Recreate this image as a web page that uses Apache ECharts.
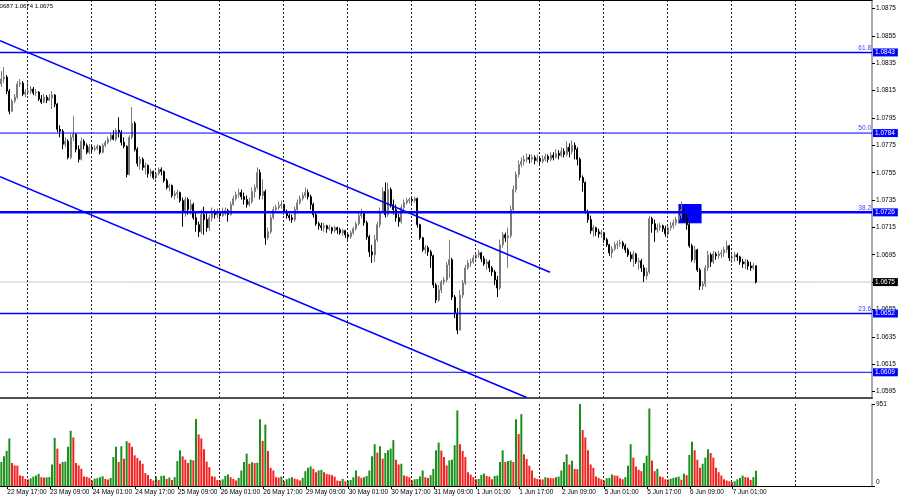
<!DOCTYPE html>
<html><head><meta charset="utf-8">
<script src="https://cdn.jsdelivr.net/npm/echarts@6/dist/echarts.min.js"></script>
<style>html,body{margin:0;padding:0;background:#fff}#c{width:900px;height:500px}</style>
</head><body><div id="c"></div>
<script>
// ---------- data (EURUSD H1) ----------
const symbolName = 'EURUSD,H1';
const firstOpen = 1.08199;
const closes = [
1.08236,1.08250,1.08147,1.08000,1.08074,1.08103,1.08199,1.08206,1.08125,1.08140,
1.08147,1.08162,1.08133,1.08140,1.08089,1.08066,1.08103,1.08081,1.08096,1.08118,
1.08052,1.07868,1.07853,1.07758,1.07780,1.07662,1.07809,1.07831,1.07721,1.07648,
1.07780,1.07750,1.07699,1.07736,1.07721,1.07728,1.07743,1.07699,1.07750,1.07772,
1.07795,1.07824,1.07795,1.07861,1.07846,1.07772,1.07743,1.07537,1.07809,1.07912,
1.07721,1.07618,1.07648,1.07589,1.07603,1.07544,1.07559,1.07515,1.07544,1.07574,
1.07559,1.07493,1.07442,1.07456,1.07383,1.07397,1.07405,1.07346,1.07258,1.07354,
1.07280,1.07317,1.07221,1.07170,1.07118,1.07243,1.07207,1.07148,1.07221,1.07265,
1.07243,1.07258,1.07236,1.07250,1.07273,1.07243,1.07317,1.07361,1.07390,1.07405,
1.07375,1.07354,1.07317,1.07339,1.07412,1.07442,1.07552,1.07383,1.07412,1.07074,
1.07118,1.07221,1.07280,1.07295,1.07309,1.07317,1.07265,1.07236,1.07221,1.07207,
1.07280,1.07331,1.07361,1.07383,1.07405,1.07375,1.07317,1.07243,1.07177,1.07162,
1.07148,1.07162,1.07140,1.07148,1.07126,1.07148,1.07133,1.07111,1.07126,1.07096,
1.07081,1.07111,1.07140,1.07177,1.07236,1.07250,1.07184,1.07081,1.06971,1.06949,
1.07060,1.07170,1.07265,1.07412,1.07243,1.07427,1.07317,1.07280,1.07221,1.07192,
1.07295,1.07331,1.07346,1.07354,1.07346,1.07361,1.07170,1.07074,1.06986,1.07001,
1.06971,1.06942,1.06729,1.06619,1.06692,1.06751,1.06766,1.06876,1.06913,1.06640,
1.06523,1.06398,1.06655,1.06743,1.06854,1.06890,1.06898,1.06927,1.06949,1.06964,
1.06920,1.06883,1.06898,1.06854,1.06824,1.06766,1.06707,1.07023,1.07096,1.07074,
1.07089,1.07280,1.07427,1.07537,1.07611,1.07633,1.07648,1.07662,1.07648,1.07662,
1.07640,1.07655,1.07633,1.07648,1.07669,1.07648,1.07677,1.07662,1.07691,1.07677,
1.07706,1.07684,1.07736,1.07706,1.07750,1.07721,1.07648,1.07515,1.07478,1.07265,
1.07207,1.07126,1.07148,1.07118,1.07103,1.07111,1.07060,1.07023,1.06964,1.06993,
1.07023,1.07030,1.07037,1.07015,1.06986,1.06949,1.06920,1.06956,1.06898,1.06905,
1.06854,1.06795,1.06824,1.07214,1.07177,1.07133,1.07148,1.07162,1.07140,1.07103,
1.07148,1.07162,1.07184,1.07207,1.07236,1.07280,1.07214,1.07170,1.07015,1.06913,
1.06986,1.06839,1.06721,1.06736,1.06854,1.06949,1.06898,1.06956,1.06942,1.06956,
1.06964,1.06986,1.07015,1.06927,1.06934,1.06949,1.06934,1.06898,1.06883,1.06898,
1.06868,1.06854,1.06870,1.06750
];
const highs = [
1.08294,1.08324,1.08265,1.08162,1.08089,1.08125,1.08221,1.08236,1.08221,1.08162,
1.08213,1.08184,1.08177,1.08162,1.08147,1.08118,1.08125,1.08118,1.08125,1.08147,
1.08125,1.08059,1.07897,1.07868,1.07809,1.07795,1.07831,1.07963,1.07838,1.07750,
1.07809,1.07795,1.07765,1.07758,1.07750,1.07750,1.07758,1.07750,1.07765,1.07787,
1.07816,1.07838,1.07861,1.07875,1.07956,1.07861,1.07809,1.07750,1.07824,1.08030,
1.07927,1.07736,1.07669,1.07662,1.07625,1.07611,1.07581,1.07567,1.07559,1.07589,
1.07589,1.07567,1.07508,1.07471,1.07464,1.07420,1.07427,1.07412,1.07368,1.07375,
1.07368,1.07354,1.07331,1.07258,1.07192,1.07280,1.07302,1.07265,1.07243,1.07295,
1.07280,1.07287,1.07273,1.07295,1.07295,1.07287,1.07339,1.07383,1.07412,1.07434,
1.07427,1.07405,1.07383,1.07368,1.07442,1.07464,1.07589,1.07574,1.07501,1.07427,
1.07148,1.07243,1.07302,1.07317,1.07339,1.07346,1.07324,1.07280,1.07250,1.07243,
1.07302,1.07354,1.07383,1.07405,1.07442,1.07427,1.07390,1.07331,1.07258,1.07192,
1.07184,1.07184,1.07170,1.07170,1.07155,1.07162,1.07155,1.07148,1.07140,1.07133,
1.07111,1.07126,1.07155,1.07192,1.07265,1.07287,1.07265,1.07199,1.07096,1.07023,
1.07096,1.07192,1.07295,1.07442,1.07478,1.07478,1.07442,1.07354,1.07317,1.07250,
1.07317,1.07354,1.07368,1.07368,1.07368,1.07375,1.07368,1.07177,1.07081,1.07023,
1.07015,1.06986,1.06949,1.06743,1.06729,1.06766,1.06787,1.06898,1.07060,1.06927,
1.06655,1.06560,1.06692,1.06766,1.06876,1.06913,1.06920,1.06949,1.06971,1.06986,
1.06971,1.06942,1.06920,1.06913,1.06868,1.06839,1.06795,1.07060,1.07118,1.07111,
1.07148,1.07309,1.07456,1.07559,1.07640,1.07662,1.07677,1.07691,1.07684,1.07684,
1.07677,1.07684,1.07669,1.07677,1.07691,1.07684,1.07699,1.07699,1.07721,1.07714,
1.07736,1.07728,1.07780,1.07765,1.07787,1.07772,1.07736,1.07662,1.07530,1.07486,
1.07280,1.07236,1.07170,1.07155,1.07140,1.07133,1.07118,1.07074,1.07030,1.07015,
1.07045,1.07052,1.07060,1.07052,1.07030,1.07001,1.06971,1.06979,1.06964,1.06927,
1.06920,1.06876,1.06854,1.07236,1.07228,1.07207,1.07177,1.07184,1.07170,1.07162,
1.07170,1.07192,1.07207,1.07228,1.07295,1.07339,1.07302,1.07250,1.07192,1.07030,
1.07015,1.06993,1.06854,1.06758,1.06876,1.06979,1.06964,1.06979,1.06971,1.06979,
1.06986,1.07008,1.07052,1.07023,1.06971,1.06971,1.06964,1.06942,1.06920,1.06920,
1.06913,1.06898,1.06890,1.06870
];
const lows = [
1.08177,1.08206,1.08125,1.07978,1.07993,1.08059,1.08089,1.08177,1.08110,1.08103,
1.08118,1.08125,1.08118,1.08110,1.08074,1.08052,1.08059,1.08059,1.08074,1.08015,
1.08030,1.07846,1.07809,1.07721,1.07736,1.07648,1.07648,1.07780,1.07699,1.07625,
1.07640,1.07721,1.07684,1.07684,1.07699,1.07706,1.07714,1.07684,1.07691,1.07736,
1.07758,1.07780,1.07787,1.07780,1.07809,1.07750,1.07728,1.07515,1.07530,1.07795,
1.07706,1.07596,1.07574,1.07567,1.07537,1.07515,1.07522,1.07501,1.07501,1.07530,
1.07530,1.07478,1.07427,1.07412,1.07368,1.07354,1.07361,1.07331,1.07155,1.07228,
1.07243,1.07243,1.07207,1.07118,1.07081,1.07103,1.07096,1.07118,1.07126,1.07192,
1.07214,1.07221,1.07207,1.07228,1.07236,1.07192,1.07236,1.07309,1.07346,1.07368,
1.07354,1.07317,1.07295,1.07302,1.07324,1.07368,1.07427,1.07354,1.07354,1.07023,
1.07060,1.07103,1.07207,1.07265,1.07280,1.07287,1.07243,1.07214,1.07199,1.07184,
1.07192,1.07265,1.07317,1.07346,1.07368,1.07354,1.07280,1.07221,1.07162,1.07133,
1.07126,1.07118,1.07111,1.07126,1.07103,1.07111,1.07103,1.07096,1.07089,1.07074,
1.07060,1.07067,1.07096,1.07126,1.07162,1.07214,1.07162,1.07060,1.06934,1.06890,
1.06898,1.07045,1.07148,1.07265,1.07221,1.07228,1.07295,1.07243,1.07192,1.07155,
1.07177,1.07280,1.07317,1.07324,1.07324,1.07331,1.07148,1.07060,1.06971,1.06956,
1.06942,1.06854,1.06707,1.06596,1.06604,1.06670,1.06729,1.06751,1.06780,1.06619,
1.06486,1.06369,1.06398,1.06633,1.06729,1.06839,1.06861,1.06883,1.06913,1.06927,
1.06898,1.06868,1.06839,1.06824,1.06795,1.06729,1.06640,1.06692,1.07001,1.07045,
1.06854,1.07074,1.07265,1.07405,1.07515,1.07589,1.07603,1.07625,1.07618,1.07625,
1.07611,1.07625,1.07603,1.07618,1.07633,1.07625,1.07633,1.07640,1.07655,1.07648,
1.07662,1.07662,1.07669,1.07662,1.07684,1.07648,1.07603,1.07493,1.07412,1.07250,
1.07184,1.07103,1.07081,1.07089,1.07074,1.07074,1.07037,1.07008,1.06942,1.06927,
1.06979,1.06993,1.07008,1.06993,1.06964,1.06934,1.06898,1.06861,1.06883,1.06839,
1.06824,1.06751,1.06766,1.06809,1.07111,1.07045,1.07111,1.07126,1.07118,1.07081,
1.07089,1.07126,1.07140,1.07162,1.07177,1.07214,1.07184,1.07133,1.07001,1.06898,
1.06890,1.06824,1.06692,1.06692,1.06714,1.06832,1.06861,1.06883,1.06913,1.06920,
1.06927,1.06934,1.06964,1.06905,1.06890,1.06898,1.06905,1.06876,1.06854,1.06846,
1.06839,1.06832,1.06839,1.06740
];
const volumes = [
278,344,407,551,266,239,235,121,117,82,
74,90,109,121,141,102,98,100,104,250,
559,434,258,278,282,454,641,563,266,239,
199,109,106,94,63,86,90,102,113,82,
74,94,336,454,278,461,317,520,500,454,
356,325,297,258,149,129,82,63,109,70,
117,118,82,98,70,102,289,414,344,305,
266,305,297,778,598,551,426,282,219,113,
109,70,63,78,117,133,102,82,63,94,
180,278,375,258,274,266,270,774,524,712,
407,211,180,102,98,109,55,78,90,102,
86,78,63,94,172,211,227,199,160,180,
188,160,141,133,125,109,63,59,82,55,
63,70,102,180,113,94,102,117,180,344,
485,387,461,317,383,414,434,532,305,250,
258,121,113,102,63,78,82,109,180,102,
94,125,199,414,504,410,336,239,297,305,
473,876,485,407,336,160,133,102,78,82,
129,145,117,109,78,117,121,278,414,278,
289,297,278,774,602,833,368,313,235,180,
94,82,78,76,102,94,92,90,102,109,
180,278,368,250,293,199,195,951,649,563,
414,250,211,109,94,78,63,90,94,133,
121,120,90,78,102,235,485,328,227,188,
172,266,352,899,297,172,199,109,102,78,
76,86,94,102,109,74,141,125,360,512,
414,305,211,258,328,426,383,328,211,160,
121,78,63,55,47,55,78,94,121,102,
100,70,102,176
];
const timeLabels = ['22 May 17:00','23 May 09:00','24 May 01:00','24 May 17:00','25 May 09:00','26 May 01:00','26 May 17:00','29 May 09:00','30 May 01:00','30 May 17:00','31 May 09:00','1 Jun 01:00','1 Jun 17:00','2 Jun 09:00','5 Jun 01:00','5 Jun 17:00','6 Jun 09:00','7 Jun 01:00'];
const timeLabelBars = [2.25,18.25,34.25,50.25,66.25,82.25,98.25,114.25,130.25,146.25,162.25,178.25,194.25,210.25,226.25,242.25,258.25,274.25];
const daySeparatorBars = [9.74,33.74,57.74,81.74,105.74,129.74,153.74,177.74,201.74,225.74,249.74,273.74,297.74];
const priceTicks = [1.0595,1.0615,1.0635,1.0655,1.0675,1.0695,1.0715,1.0735,1.0755,1.0775,1.0795,1.0815,1.0835,1.0855,1.0875];
const volumeTicks = [0, 951];
const levelPrices = [1.0843, 1.0784, 1.0726, 1.0652, 1.0609];
const levelFibText = ['61.8', '50.0', '38.2', '23.6', ''];
const lastPrice = 1.0675;
const channelUpper = [[-0.5, 1.08516], [205.75, 1.06822]];
const channelLower = [[-0.5, 1.07521], [197.0, 1.05905]];
const zoneBars = [253.9, 262.6];
const zonePrices = [1.07321, 1.07180];

// ---------- chart ----------
const N = 327;
const XMIN = -0.5, XMAX = N - 0.5;
const cats = Array.from({length: N}, (_, i) => String(i));
const candleData = closes.map((c, i) => {
  const o = i === 0 ? firstOpen : closes[i - 1];
  return [o, c, Math.min(lows[i], o, c), Math.max(highs[i], o, c)];
});
const GREEN = '#1d8f1d', RED = '#f52222';
const volData = volumes.map((v, i) => ({value: v, itemStyle: {color: (i === 0 || v > volumes[i - 1]) ? GREEN : RED}}));
const FONT = 'Liberation Sans';
const lineWidths = [1.5, 1, 2.5, 1.5, 1];
const last = candleData[candleData.length - 1];
const infoText = symbolName + '  ' + [last[0], last[3], last[2], last[1]].map(v => v.toFixed(4)).join(' ');

const boxLabel = (txt, bg) => ({show: true, distance: 1, formatter: txt, color: '#fff', backgroundColor: bg,
  fontSize: 6.5, fontFamily: FONT, padding: [1, 3, 0, 2], lineHeight: 7});

// each horizontal level as its own two-point line series across the full axis
const levelSeries = [];
levelPrices.forEach((p, i) => {
  levelSeries.push({type: 'line', xAxisIndex: 1, yAxisIndex: 0, z: 6, silent: true, symbol: 'none',
    lineStyle: {color: '#0000ff', width: lineWidths[i]},
    data: [[XMIN, p], [XMAX, p]], endLabel: boxLabel(p.toFixed(4), '#0000ff')});
  if (levelFibText[i]) levelSeries.push({type: 'line', xAxisIndex: 1, yAxisIndex: 0, z: 6, silent: true, symbol: 'none',
    lineStyle: {opacity: 0},
    data: [[XMIN, p], [XMAX, p]],
    endLabel: {show: true, formatter: levelFibText[i], align: 'right', distance: 0, offset: [-1, -4.5],
      color: '#4040ff', fontSize: 6.5, fontFamily: FONT}});
});
levelSeries.push({type: 'line', xAxisIndex: 1, yAxisIndex: 0, z: 2, silent: true, symbol: 'none',
  lineStyle: {color: '#c8c8c8', width: 1},
  data: [[XMIN, lastPrice], [XMAX, lastPrice]], endLabel: boxLabel(lastPrice.toFixed(4), '#000')});

const sepMark = () => ({symbol: ['none', 'none'], silent: true, label: {show: false},
  lineStyle: {color: '#222', width: 1, type: [2, 2]}, data: daySeparatorBars.map(v => ({xAxis: v}))});

const chart = echarts.init(document.getElementById('c'), null, {renderer: 'canvas'});
chart.setOption({
  animation: false,
  backgroundColor: '#fff',
  textStyle: {fontFamily: FONT},
  grid: [
    {left: 0, top: 0, width: 872, height: 398, outerBoundsMode: 'none', containLabel: false},
    {left: 0, top: 404, width: 872, height: 82, outerBoundsMode: 'none', containLabel: false}
  ],
  xAxis: [
    {type: 'category', gridIndex: 0, data: cats, position: 'bottom', axisLine: {show: true, lineStyle: {color: '#505050', width: 2}}, axisTick: {show: false}, axisLabel: {show: false}, splitLine: {show: false}},
    {type: 'value', gridIndex: 0, min: XMIN, max: XMAX, position: 'top', axisLine: {show: true, onZero: false, lineStyle: {color: '#000', width: 1}}, axisTick: {show: false}, axisLabel: {show: false}, splitLine: {show: false}},
    {type: 'category', gridIndex: 1, data: cats, position: 'bottom', axisLine: {show: false}, axisTick: {show: false}, axisLabel: {show: false}, splitLine: {show: false}},
    {type: 'value', gridIndex: 1, min: XMIN, max: XMAX, position: 'bottom',
      axisLine: {show: true, onZero: false, lineStyle: {color: '#000', width: 1}},
      axisTick: {show: true, customValues: timeLabelBars, length: 3, lineStyle: {color: '#000'}},
      axisLabel: {show: true, customValues: timeLabelBars, align: 'left', margin: 3, fontSize: 6.5, color: '#000', fontFamily: FONT,
        formatter: (v) => { const k = timeLabelBars.findIndex(p => Math.abs(p - v) < 0.01); return k >= 0 ? timeLabels[k] : ''; }},
      splitLine: {show: false}}
  ],
  yAxis: [
    {type: 'value', gridIndex: 0, position: 'right', min: 1.059020, max: 1.088135, splitLine: {show: false},
      axisLine: {show: true, onZero: false, lineStyle: {color: '#8c8c8c', width: 1.5}},
      axisTick: {show: true, customValues: priceTicks, length: 3, lineStyle: {color: '#000'}},
      axisLabel: {show: true, customValues: priceTicks, margin: 4, fontSize: 6.5, color: '#000', fontFamily: FONT, formatter: v => v.toFixed(4)}},
    {type: 'value', gridIndex: 1, position: 'right', min: 0, max: 951, splitLine: {show: false},
      axisLine: {show: true, onZero: false, lineStyle: {color: '#8c8c8c', width: 1.5}},
      axisTick: {show: true, customValues: volumeTicks, length: 3, lineStyle: {color: '#000'}},
      axisLabel: {show: true, customValues: volumeTicks, margin: 4, fontSize: 6.5, color: '#000', fontFamily: FONT,
        formatter: v => v === 0 ? '{z|0}' : '{m|' + v + '}', rich: {z: {padding: [0, 0, 8, 0], fontSize: 6.5}, m: {fontSize: 6.5}}}}
  ],
  graphic: [{type: 'text', x: 53, y: 6, silent: true,
    style: {text: infoText, align: 'right', verticalAlign: 'middle', font: '6px "Liberation Sans"', fill: '#000'}}],
  series: [
    {type: 'line', xAxisIndex: 1, yAxisIndex: 0, data: [], z: 1, silent: true, markLine: sepMark(),
      markArea: {silent: true, itemStyle: {color: '#0000ff', opacity: 1},
        data: [[{coord: [zoneBars[0], zonePrices[0]]}, {coord: [zoneBars[1], zonePrices[1]]}]]}},
    {type: 'candlestick', xAxisIndex: 0, yAxisIndex: 0, data: candleData, barWidth: 1.8, z: 3, silent: true,
      itemStyle: {color: '#9c9c9c', color0: '#000000', borderColor: '#7a7a7a', borderColor0: '#000000', borderWidth: 1}},
    {type: 'line', xAxisIndex: 1, yAxisIndex: 0, data: channelUpper, symbol: 'none', z: 5, silent: true,
      lineStyle: {color: '#0000ff', width: 1.6}},
    {type: 'line', xAxisIndex: 1, yAxisIndex: 0, data: channelLower, symbol: 'none', z: 5, silent: true,
      lineStyle: {color: '#0000ff', width: 1.6}},
    ...levelSeries,
    {type: 'line', xAxisIndex: 3, yAxisIndex: 1, data: [], z: 1, silent: true, markLine: sepMark()},
    {type: 'bar', xAxisIndex: 2, yAxisIndex: 1, data: volData, barWidth: 2, z: 3, silent: true}
  ]
});
</script>
</body></html>
